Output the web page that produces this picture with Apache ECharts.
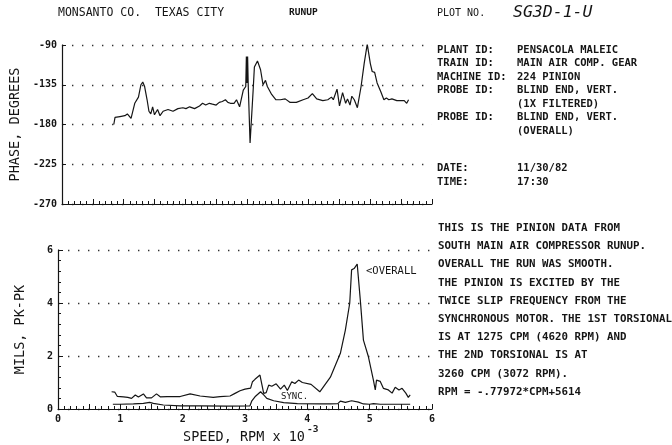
<!DOCTYPE html>
<html>
<head>
<meta charset="utf-8">
<script src="https://cdn.jsdelivr.net/npm/echarts@6/dist/echarts.min.js"></script>
<style>
  html, body { margin: 0; padding: 0; background: #fff; }
  #chart { width: 672px; height: 445px; }
</style>
</head>
<body>
<div id="chart"></div>
<script>
// Phase (degrees) vs speed (RPM x 10^-3), 1X filtered
const phaseData = [
  [0.84,-180],[0.86,-172],[0.94,-171],[1.02,-170],[1.06,-168],[1.12,-173],[1.18,-156],[1.24,-149],
  [1.28,-135],[1.31,-132],[1.34,-137],[1.38,-152],[1.41,-165],[1.44,-168],[1.47,-160],[1.50,-169],
  [1.55,-163],[1.59,-170],[1.64,-165],[1.72,-163],[1.80,-165],[1.88,-162],[1.96,-161],[2.01,-162],
  [2.07,-160],[2.15,-162],[2.23,-159],[2.28,-156],[2.33,-158],[2.39,-156],[2.44,-157],[2.50,-158],
  [2.55,-155],[2.60,-154],[2.65,-152],[2.69,-155],[2.73,-156],[2.79,-156],[2.83,-152],[2.88,-160],
  [2.94,-141],[2.98,-137],[2.99,-103],[3.00,-133],[3.01,-103],[3.02,-135],[3.05,-201],[3.10,-141],
  [3.12,-115],[3.17,-108],[3.22,-118],[3.26,-135],[3.30,-130],[3.33,-137],[3.40,-146],[3.47,-152],
  [3.54,-152],[3.62,-151],[3.70,-155],[3.80,-155],[3.91,-152],[3.99,-150],[4.06,-145],[4.13,-151],
  [4.23,-153],[4.31,-152],[4.37,-149],[4.40,-152],[4.46,-140],[4.50,-159],[4.55,-144],[4.60,-156],
  [4.63,-151],[4.67,-158],[4.70,-148],[4.74,-152],[4.79,-161],[4.85,-137],[4.90,-111],[4.95,-89],
  [5.00,-111],[5.03,-120],[5.07,-121],[5.11,-133],[5.17,-143],[5.22,-152],[5.26,-150],[5.30,-152],
  [5.35,-151],[5.43,-153],[5.51,-153],[5.55,-153],[5.59,-156],[5.62,-152]
];

// Overall amplitude (mils pk-pk)
const overallData = [
  [0.86,0.65],[0.91,0.64],[0.95,0.48],[1.05,0.46],[1.12,0.44],[1.18,0.40],[1.24,0.53],[1.29,0.45],
  [1.37,0.57],[1.42,0.42],[1.50,0.42],[1.58,0.57],[1.64,0.46],[1.75,0.47],[1.96,0.47],[2.12,0.57],
  [2.28,0.49],[2.49,0.44],[2.60,0.47],[2.76,0.49],[2.84,0.59],[2.92,0.69],[3.00,0.75],[3.09,0.79],
  [3.12,1.03],[3.16,1.12],[3.24,1.28],[3.26,1.33],[3.30,0.59],[3.34,0.62],[3.38,0.90],[3.43,0.86],
  [3.50,0.95],[3.57,0.75],[3.63,0.90],[3.68,0.70],[3.75,1.03],[3.80,0.96],[3.86,1.09],[3.92,1.00],
  [4.06,0.93],[4.20,0.65],[4.37,1.20],[4.53,2.10],[4.61,2.98],[4.68,3.99],[4.71,5.25],[4.75,5.30],
  [4.80,5.47],[4.85,4.11],[4.90,2.60],[4.98,1.97],[5.06,1.09],[5.09,0.72],[5.11,1.09],[5.17,1.04],
  [5.22,0.78],[5.30,0.72],[5.36,0.60],[5.41,0.82],[5.47,0.72],[5.52,0.78],[5.58,0.60],[5.62,0.44],
  [5.65,0.53]
];

// Synchronous (1X) amplitude (mils pk-pk)
const syncData = [
  [0.88,0.18],[0.99,0.18],[1.21,0.19],[1.37,0.21],[1.47,0.25],[1.53,0.21],[1.69,0.15],[1.96,0.12],
  [2.28,0.12],[2.70,0.11],[3.08,0.12],[3.11,0.31],[3.16,0.46],[3.25,0.65],[3.30,0.53],[3.35,0.40],
  [3.46,0.31],[3.62,0.24],[3.84,0.20],[4.20,0.19],[4.37,0.19],[4.49,0.20],[4.53,0.30],[4.61,0.25],
  [4.71,0.31],[4.82,0.26],[4.90,0.19],[5.00,0.18],[5.06,0.20],[5.17,0.18],[5.43,0.18],[5.65,0.18]
];

const infoLabels = ['PLANT ID:', 'TRAIN ID:', 'MACHINE ID:', 'PROBE ID:', '', 'PROBE ID:', '', 'DATE:', 'TIME:'];
const infoValues = ['PENSACOLA MALEIC', 'MAIN AIR COMP. GEAR', '224 PINION', 'BLIND END, VERT.',
  '(1X FILTERED)', 'BLIND END, VERT.', '(OVERALL)', '11/30/82', '17:30'];

const noteLines = [
  'THIS IS THE PINION DATA FROM',
  'SOUTH MAIN AIR COMPRESSOR RUNUP.',
  'OVERALL THE RUN WAS SMOOTH.',
  'THE PINION IS EXCITED BY THE',
  'TWICE SLIP FREQUENCY FROM THE',
  'SYNCHRONOUS MOTOR. THE 1ST TORSIONAL',
  'IS AT 1275 CPM (4620 RPM) AND',
  'THE 2ND TORSIONAL IS AT',
  '3260 CPM (3072 RPM).',
  'RPM = -.77972*CPM+5614'
];

const FONT = '"DejaVu Sans Mono", monospace';
const INK = '#151515';

const dotted = { color: '#333', width: 1.4, type: [1.4, 8.6] };

function xAxisCfg(gridIndex, showLabels) {
  return {
    type: 'value', gridIndex, min: 0, max: 6, interval: 0.5,
    axisLine: { show: true, lineStyle: { color: INK, width: 1.2 } },
    axisTick: { show: true, inside: true, length: 5, lineStyle: { color: INK, width: 1 } },
    minorTick: { show: true, splitNumber: 5, length: 3, lineStyle: { color: INK, width: 1 } },
    splitLine: { show: false },
    axisLabel: {
      show: showLabels, margin: 5, color: INK, fontFamily: FONT, fontSize: 10, fontWeight: 'bold',
      formatter: v => (Math.abs(v - Math.round(v)) < 1e-6 ? String(Math.round(v)) : '')
    }
  };
}

const infoY = [51, 64, 78, 91, 105, 118, 132, 169, 183];
const graphics = [];
function txt(x, y, s, size, font) {
  graphics.push({
    type: 'text', left: x, top: y - size / 2 - 1, silent: true,
    style: { text: s, fill: INK, font: font || `${size}px ${FONT}` }
  });
}
txt(58, 14, 'MONSANTO CO.  TEXAS CITY', 11.5);
txt(289, 14, 'RUNUP', 10, `bold 9.5px ${FONT}`);
txt(437, 14, 'PLOT NO.', 10);
txt(513, 13, 'SG3D-1-U', 16, `italic 16.5px ${FONT}`);
infoLabels.forEach((s, i) => { if (s) txt(437, infoY[i], s, 10.5, `bold 10.5px ${FONT}`); });
infoValues.forEach((s, i) => txt(517, infoY[i], s, 10.5, `bold 10.5px ${FONT}`));
noteLines.forEach((s, i) => txt(438, 229 + i * 18.2, s, 10.8, `bold 10.8px ${FONT}`));
txt(183, 438, 'SPEED, RPM x 10', 13.5);
txt(307, 430, '-3', 9.5, `bold 9.5px ${FONT}`);
txt(366, 272, '<OVERALL', 10.5);
txt(281, 398, 'SYNC.', 9);

const chart = echarts.init(document.getElementById('chart'), null, { renderer: 'canvas' });
chart.setOption({
  animation: false,
  backgroundColor: '#fff',
  grid: [
    { left: 58, top: 45, width: 374, height: 159 },
    { left: 58, top: 250, width: 374, height: 159 }
  ],
  xAxis: [xAxisCfg(0, false), xAxisCfg(1, true)],
  yAxis: [
    {
      type: 'value', gridIndex: 0, min: -270, max: -90, interval: 45,
      name: 'PHASE, DEGREES', nameLocation: 'middle', nameGap: 32, nameRotate: 90,
      nameTextStyle: { color: INK, fontFamily: FONT, fontSize: 13.5 },
      axisLine: { show: true, lineStyle: { color: INK, width: 1.2 } },
      axisTick: { show: true, inside: true, length: 4, lineStyle: { color: INK } },
      splitLine: { show: true, lineStyle: dotted },
      axisLabel: { margin: 5, color: INK, fontFamily: FONT, fontSize: 10, fontWeight: 'bold' }
    },
    {
      type: 'value', gridIndex: 1, min: 0, max: 6, interval: 2,
      name: 'MILS, PK-PK', nameLocation: 'middle', nameGap: 31, nameRotate: 90,
      nameTextStyle: { color: INK, fontFamily: FONT, fontSize: 13.5 },
      axisLine: { show: true, lineStyle: { color: INK, width: 1.2 } },
      axisTick: { show: true, inside: true, length: 5, lineStyle: { color: INK } },
      minorTick: { show: true, splitNumber: 5, length: 3, lineStyle: { color: INK } },
      splitLine: { show: true, lineStyle: dotted },
      axisLabel: { margin: 5, color: INK, fontFamily: FONT, fontSize: 10, fontWeight: 'bold' }
    }
  ],
  series: [
    { type: 'line', xAxisIndex: 0, yAxisIndex: 0, data: phaseData, symbol: 'none',
      lineStyle: { color: INK, width: 1.2 } },
    { type: 'line', xAxisIndex: 1, yAxisIndex: 1, data: overallData, symbol: 'none',
      lineStyle: { color: INK, width: 1.2 } },
    { type: 'line', xAxisIndex: 1, yAxisIndex: 1, data: syncData, symbol: 'none',
      lineStyle: { color: INK, width: 1.2 } }
  ],
  graphic: graphics
});
</script>
</body>
</html>
